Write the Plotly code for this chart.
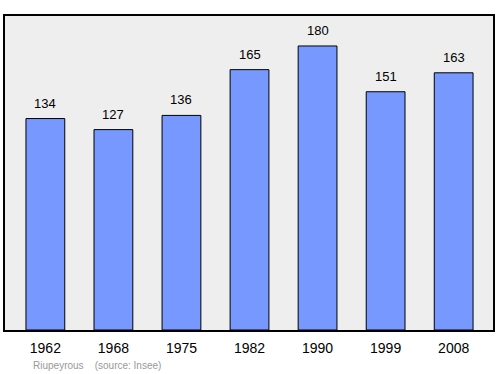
import plotly.graph_objects as go

years = ["1962", "1968", "1975", "1982", "1990", "1999", "2008"]
population = [134, 127, 136, 165, 180, 151, 163]

fig = go.Figure()
fig.add_trace(go.Bar(
    x=list(range(len(years))), y=population,
    marker=dict(color="#7799ff", line=dict(color="#000000", width=1)),
    width=0.57,
    hoverinfo="skip",
))
for i, v in enumerate(population):
    fig.add_annotation(x=i, y=v, text=str(v), showarrow=False, yanchor="bottom",
                       yshift=6, font=dict(family="Liberation Sans, Arial", size=13, color="#000"))

fig.add_annotation(xref="paper", yref="paper", x=0.053, y=-0.09, xanchor="left", yanchor="top",
                   text="Riupeyrous&nbsp;&nbsp;&nbsp;&nbsp;(source: Insee)", showarrow=False,
                   font=dict(family="Liberation Sans, Arial", size=10, color="#999999"))

fig.update_layout(
    width=500, height=374,
    margin=dict(l=5, r=5, t=16, b=44),
    paper_bgcolor="#ffffff",
    plot_bgcolor="#eeeeee",
    showlegend=False,
    xaxis=dict(range=[-0.593, 6.578], tickmode="array", tickvals=list(range(len(years))),
               ticktext=years, showgrid=False, zeroline=False, showline=True,
               linecolor="#000", linewidth=1.5, mirror=True, ticks="", ticklabelstandoff=4,
               tickfont=dict(family="Liberation Sans, Arial", size=14, color="#000")),
    yaxis=dict(range=[0, 199], showticklabels=False, showgrid=False, zeroline=False,
               showline=True, linecolor="#000", linewidth=1.5, mirror=True, ticks=""),
)
fig.write_html("out.html")
